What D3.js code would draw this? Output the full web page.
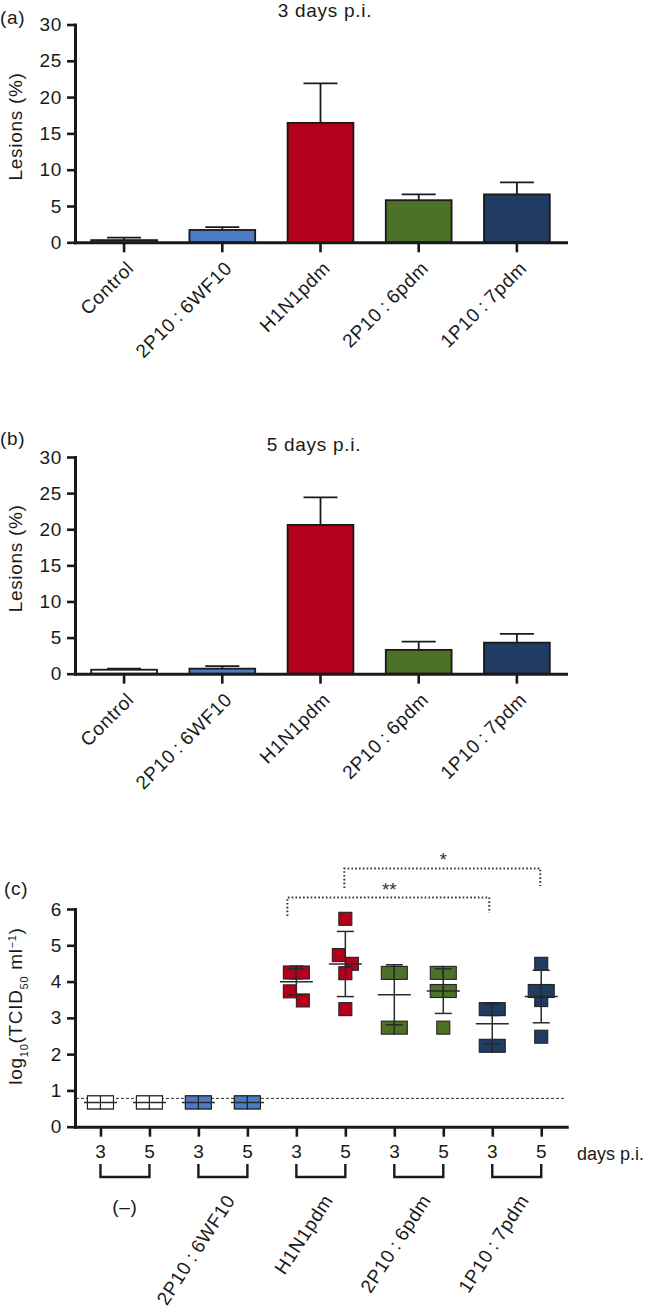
<!DOCTYPE html>
<html><head><meta charset="utf-8">
<script src="https://cdn.jsdelivr.net/npm/d3@7"></script>
<style>
body{margin:0;background:#fff}
svg{display:block;font-family:"Liberation Sans",Arial,Helvetica,sans-serif;fill:#1a1a1a}
</style>
</head><body>
<svg id="chart" width="652" height="1313"></svg>
<script>
// ---------- data ----------
const categories = ["Control", "2P10\u2009:\u20096WF10", "H1N1pdm", "2P10\u2009:\u20096pdm", "1P10\u2009:\u20097pdm"];
const colors = ["#ffffff", "#4a7bc4", "#b3001b", "#4e7128", "#213c62"];

// (a) lesions 3 days p.i. (mean, mean+SEM)
const lesions3 = [0.3, 1.7, 16.45, 5.8, 6.6];
const lesions3Upper = [0.65, 2.1, 21.9, 6.6, 8.25];
// (b) lesions 5 days p.i.
const lesions5 = [0.55, 0.7, 20.6, 3.3, 4.3];
const lesions5Upper = [0.7, 1.05, 24.4, 4.45, 5.5];
const lesionTicks = [0, 5, 10, 15, 20, 25, 30];

// (c) virus titres, log10 TCID50/ml, per animal
const groupLabels = ["(\u2013)", "2P10\u2009:\u20096WF10", "H1N1pdm", "2P10\u2009:\u20096pdm", "1P10\u2009:\u20097pdm"];
const dayLabels = ["3", "5"];
const titreDay3 = [
  [0.67, 0.67, 0.67, 0.67],
  [0.67, 0.67, 0.67, 0.67],
  [4.25, 4.25, 4.25, 3.73, 3.48],
  [4.24, 4.24, 4.24, 2.73, 2.73],
  [3.24, 3.24, 3.24, 2.23, 2.23]
];
const titreDay5 = [
  [0.67, 0.67, 0.67, 0.67],
  [0.67, 0.67, 0.67, 0.67],
  [5.73, 4.73, 4.49, 4.23, 3.24],
  [4.24, 4.24, 3.74, 3.74, 2.73],
  [4.49, 3.74, 3.74, 3.49, 2.48]
];
const detectionLimit = 0.78;
const titreTicks = [0, 1, 2, 3, 4, 5, 6];
// significance: [fromGroup, fromDay, toGroup, toDay, label]
const significance = [
  [2, 0, 4, 0, "**"],
  [2, 1, 4, 1, "*"]
];

// ---------- drawing ----------
const svg = d3.select("#chart");
const FS = 19;
const LS = "0.7px";
const INK = "#1a1a1a";

function txt(sel) { return sel.style("font-size", FS + "px").style("letter-spacing", LS); }

function styleAxis(g, w) {
  g.select(".domain").attr("stroke", INK).attr("stroke-width", w).attr("stroke-linecap", "square");
  g.selectAll(".tick line").attr("stroke", INK).attr("stroke-width", 2.6);
  txt(g.selectAll(".tick text").attr("fill", INK));
}

function barPanel(opt) {
  const y = d3.scaleLinear().domain([0, 30]).range([opt.y0, opt.y30]);
  const x = d3.scaleBand().domain(categories).range([75, 566]).paddingInner(0.33).paddingOuter(0.165);
  const g = svg.append("g");

  g.selectAll("rect.bar").data(categories).join("rect")
    .attr("x", d => x(d)).attr("width", x.bandwidth())
    .attr("y", (d, i) => y(opt.values[i]))
    .attr("height", (d, i) => y(0) - y(opt.values[i]))
    .attr("fill", (d, i) => colors[i]).attr("stroke", INK).attr("stroke-width", 1.8);

  const eb = g.selectAll("g.eb").data(categories).join("g");
  eb.append("line")
    .attr("x1", d => x(d) + x.bandwidth() / 2).attr("x2", d => x(d) + x.bandwidth() / 2)
    .attr("y1", (d, i) => y(opt.values[i])).attr("y2", (d, i) => y(opt.upper[i]))
    .attr("stroke", INK).attr("stroke-width", 1.8);
  eb.append("line")
    .attr("x1", d => x(d) + x.bandwidth() / 2 - 17).attr("x2", d => x(d) + x.bandwidth() / 2 + 17)
    .attr("y1", (d, i) => y(opt.upper[i])).attr("y2", (d, i) => y(opt.upper[i]))
    .attr("stroke", INK).attr("stroke-width", 1.8);

  const ya = g.append("g").attr("transform", "translate(75,0)")
    .call(d3.axisLeft(y).tickValues(lesionTicks).tickFormat(d3.format("d")).tickSize(8).tickSizeOuter(0).tickPadding(5));
  styleAxis(ya, 3);
  const xa = g.append("g").attr("transform", `translate(0,${y(0)})`)
    .call(d3.axisBottom(x).tickSize(10).tickSizeOuter(0));
  styleAxis(xa, 3);
  xa.selectAll(".tick text")
    .attr("text-anchor", "end").attr("dy", null).attr("y", null)
    .attr("transform", "translate(11,27) rotate(-45)");

  const cy = (opt.y0 + opt.y30) / 2 - 7;
  txt(g.append("text").attr("text-anchor", "middle")
    .attr("transform", `translate(22,${cy}) rotate(-90)`)).text("Lesions (%)");
  txt(g.append("text").attr("x", opt.titleX).attr("y", opt.titleY).attr("text-anchor", "middle")).text(opt.title);
  txt(g.append("text").attr("x", 0).attr("y", opt.labelY)).text(opt.label);
}

barPanel({ values: lesions3, upper: lesions3Upper, y0: 242.3, y30: 24.5, title: "3 days p.i.", titleX: 325, titleY: 17, label: "(a)", labelY: 24 });
barPanel({ values: lesions5, upper: lesions5Upper, y0: 673.7, y30: 457, title: "5 days p.i.", titleX: 314, titleY: 451, label: "(b)", labelY: 445 });

// ---------- panel (c) ----------
const yc = d3.scaleLinear().domain([0, 6]).range([1126.7, 909]);
const slots = [];
groupLabels.forEach((gl, gi) => dayLabels.forEach((dl, di) => slots.push(gi + "-" + di)));
const xc = d3.scalePoint().domain(slots).range([75, 566.7]).padding(0.52);
const gc = svg.append("g");

gc.append("line").attr("x1", 76).attr("x2", 564).attr("y1", yc(detectionLimit)).attr("y2", yc(detectionLimit))
  .attr("stroke", "#333").attr("stroke-width", 1).attr("stroke-dasharray", "3,2");

const SQ = 13;
const ROWTOL = SQ / 36.3 * 0.95;

function swarm(vals) {
  const sorted = vals.slice().sort((a, b) => b - a);
  const rows = [];
  sorted.forEach(v => {
    const r = rows[rows.length - 1];
    if (r && r[0] - v < ROWTOL) r.push(v); else rows.push([v]);
  });
  const out = [];
  rows.forEach(r => {
    const n = r.length;
    r.forEach((v, i) => {
      let off;
      if (n === 1) off = 0;
      else if (n === 3) off = [-1, 1, 0][i];
      else off = i % 2 === 0 ? -1 : 1;
      out.push({ v, off: off * SQ / 2, order: off === 0 && n > 1 ? 0 : 1 });
    });
  });
  return out.sort((a, b) => a.order - b.order);
}

[titreDay3, titreDay5].forEach((dayData, di) => {
  dayData.forEach((vals, gi) => {
    const cx = xc(gi + "-" + di);
    const pts = swarm(vals);
    gc.append("g").selectAll("rect").data(pts).join("rect")
      .attr("x", d => cx + d.off - SQ / 2).attr("y", d => yc(d.v) - SQ / 2)
      .attr("width", SQ).attr("height", SQ)
      .attr("fill", colors[gi]).attr("stroke", "#222").attr("stroke-width", 1.1);
    const m = d3.mean(vals), sd = d3.deviation(vals) || 0;
    const eg = gc.append("g").attr("stroke", "#2a2a2a").attr("stroke-width", 1.5);
    eg.append("line").attr("x1", cx).attr("x2", cx).attr("y1", yc(m + sd)).attr("y2", yc(m - sd));
    eg.append("line").attr("x1", cx - 16.5).attr("x2", cx + 16.5).attr("y1", yc(m)).attr("y2", yc(m));
    if (sd > 0) {
      [m + sd, m - sd].forEach(v => eg.append("line").attr("x1", cx - 8.5).attr("x2", cx + 8.5).attr("y1", yc(v)).attr("y2", yc(v)));
    }
  });
});

const yca = gc.append("g").attr("transform", "translate(75,0)")
  .call(d3.axisLeft(yc).tickValues(titreTicks).tickFormat(d3.format("d")).tickSize(8).tickSizeOuter(0).tickPadding(5));
styleAxis(yca, 3);
const xca = gc.append("g").attr("transform", `translate(0,${yc(0)})`)
  .call(d3.axisBottom(xc).tickSize(10).tickSizeOuter(0).tickPadding(8).tickFormat(d => dayLabels[+d.split("-")[1]]));
styleAxis(xca, 3);

gc.append("text").attr("x", 577).attr("y", 1160).style("font-size", "18px").text("days p.i.");

groupLabels.forEach((gl, gi) => {
  const a = xc(gi + "-0"), b = xc(gi + "-1");
  gc.append("path").attr("d", `M${a},1164V1177H${b}V1164`).attr("fill", "none")
    .attr("stroke", INK).attr("stroke-width", 2.4);
  const mid = (a + b) / 2;
  if (gi === 0) {
    txt(gc.append("text").attr("x", mid).attr("y", 1213).attr("text-anchor", "middle")).text(gl);
  } else {
    txt(gc.append("text").attr("text-anchor", "end")
      .attr("transform", `translate(${mid + 13},1200) rotate(-57)`)).text(gl);
  }
});

const sigLevels = [[897.5, 916, 913, 896], [868.5, 888, 886, 866]];
significance.forEach((s, i) => {
  const x1 = xc(s[0] + "-" + s[1]) - (i === 0 ? 9 : 1);
  const x2 = xc(s[2] + "-" + s[3]) - (i === 0 ? 3 : 1);
  const [yh, yl, yr, ty] = sigLevels[i];
  gc.append("path").attr("d", `M${x1},${yl}V${yh}H${x2}V${yr}`).attr("fill", "none")
    .attr("stroke", "#333").attr("stroke-width", 2).attr("stroke-dasharray", "1.6,2.2");
  gc.append("text").attr("x", (x1 + x2) / 2 + 1).attr("y", ty).attr("text-anchor", "middle")
    .style("font-size", "19px").attr("fill", "#333").text(s[4]);
});

const yl = txt(gc.append("text").attr("text-anchor", "middle")
  .attr("transform", "translate(22,1006) rotate(-90)"));
yl.append("tspan").text("log");
yl.append("tspan").attr("baseline-shift", "sub").style("font-size", "11px").text("10");
yl.append("tspan").text("(TCID");
yl.append("tspan").attr("baseline-shift", "sub").style("font-size", "11px").text("50");
yl.append("tspan").text(" ml");
yl.append("tspan").attr("baseline-shift", "super").style("font-size", "11px").text("\u22121");
yl.append("tspan").text(")");

txt(gc.append("text").attr("x", 4).attr("y", 895)).text("(c)");
</script>
</body></html>
